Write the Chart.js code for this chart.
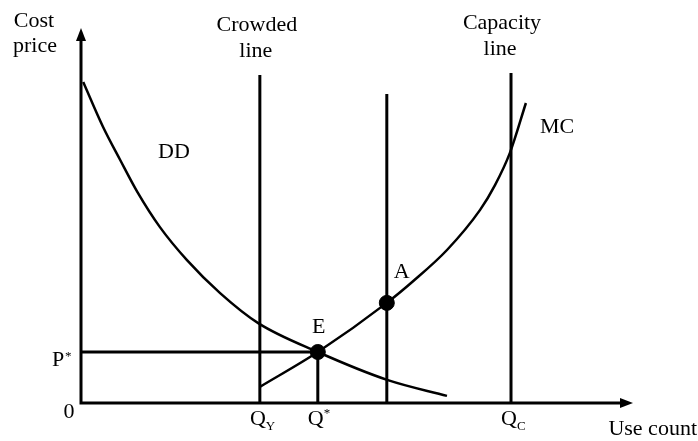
<!DOCTYPE html>
<html>
<head>
<meta charset="utf-8">
<script src="https://cdn.jsdelivr.net/npm/chart.js@4"></script>
<style>
  html, body { margin: 0; padding: 0; background: #fff; }
  #wrap { width: 698px; height: 441px; }
</style>
</head>
<body>
<div id="wrap"><canvas id="chart"></canvas></div>
<script>
// demand curve DD
const ddX = [0.4, 4.0, 7.1, 10.2, 14.3, 19.2, 25.2, 32.1, 42.9, 55.6, 66.3];
const ddY = [85.6, 73.6, 64.8, 56.3, 46.9, 38.1, 29.3, 21.3, 13.6, 6.1, 1.9];

// marginal cost curve MC
const mcX = [32.4, 42.9, 55.4, 60.1, 66.3, 72.3, 75.0, 77.7, 80.6];
const mcY = [4.3, 13.6, 26.7, 32.4, 40.8, 51.5, 58.1, 66.7, 80.0];

// vertical lines: crowded (QY), through A, capacity (QC)
const vLineX = [32.4, 55.4, 77.9];
const vLineTop = [87.5, 82.4, 88.0];

// equilibrium E and point A
const dotNames = ['E', 'A'];
const dotX = [42.9, 55.4];
const dotY = [13.6, 26.7];

const pStar = 13.6;
const qStar = 42.9;

const toPts = (xs, ys) => xs.map((x, i) => ({ x: x, y: ys[i] }));

const black = '#000';
const font = '"Liberation Serif", "Times New Roman", serif';

const lineDs = (pts, w) => ({
  data: pts,
  borderColor: black,
  borderWidth: w,
  pointRadius: 0,
  fill: false,
  clip: false
});

const datasets = [
  Object.assign(lineDs(toPts(ddX, ddY), 2.5), { cubicInterpolationMode: 'monotone' }),
  Object.assign(lineDs(toPts(mcX, mcY), 2.5), { cubicInterpolationMode: 'monotone' }),
  lineDs([{ x: 0, y: pStar }, { x: qStar, y: pStar }, { x: qStar, y: 0 }], 3)
];
vLineX.forEach((x, i) => {
  datasets.push(lineDs([{ x: x, y: 0 }, { x: x, y: vLineTop[i] }], 3));
});
datasets.push({
  data: toPts(dotX, dotY),
  showLine: false,
  pointRadius: 7.5,
  pointBackgroundColor: black,
  pointBorderColor: black,
  clip: false
});

// axes with arrows + all text
const decor = {
  id: 'decor',
  afterDatasetsDraw(chart) {
    const c = chart.ctx;
    const xs = chart.scales.x, ys = chart.scales.y;
    const x0 = xs.getPixelForValue(0), y0 = ys.getPixelForValue(0);
    const xEnd = xs.getPixelForValue(100), yEnd = ys.getPixelForValue(100);
    c.save();
    c.strokeStyle = black;
    c.fillStyle = black;
    c.lineWidth = 3;
    c.beginPath();
    c.moveTo(x0, y0 + 1.5);
    c.lineTo(x0, yEnd + 10);
    c.moveTo(x0 - 1.5, y0);
    c.lineTo(xEnd - 10, y0);
    c.stroke();
    c.beginPath();
    c.moveTo(x0, yEnd);
    c.lineTo(x0 - 5, yEnd + 13);
    c.lineTo(x0 + 5, yEnd + 13);
    c.closePath();
    c.fill();
    c.beginPath();
    c.moveTo(xEnd, y0);
    c.lineTo(xEnd - 13, y0 - 5);
    c.lineTo(xEnd - 13, y0 + 5);
    c.closePath();
    c.fill();

    const txt = (s, x, y, size, align) => {
      c.font = size + 'px ' + font;
      c.textAlign = align || 'center';
      c.textBaseline = 'alphabetic';
      c.fillText(s, x, y);
    };
    // Q label with sub/superscript
    const qLab = (x, sub, sup) => {
      c.font = '22px ' + font;
      const w = c.measureText('Q').width;
      c.textAlign = 'left';
      c.textBaseline = 'alphabetic';
      c.fillText('Q', x - w / 2 - 2, y0 + 22);
      if (sub) { c.font = '13px ' + font; c.fillText(sub, x + w / 2 - 2, y0 + 27); }
      if (sup) { c.font = '13px ' + font; c.fillText(sup, x + w / 2 - 2, y0 + 14); }
    };

    txt('Cost', 34, 27, 22);
    txt('price', 35, 52, 22);
    txt('Crowded', xs.getPixelForValue(vLineX[0]) - 3, 31, 22);
    txt('line', xs.getPixelForValue(vLineX[0]) - 4, 57, 22);
    txt('Capacity', xs.getPixelForValue(vLineX[2]) - 9, 29, 22);
    txt('line', xs.getPixelForValue(vLineX[2]) - 11, 55, 22);
    txt('0', x0 - 12, y0 + 15, 22);
    c.font = '22px ' + font;
    c.textAlign = 'left';
    const pY = ys.getPixelForValue(pStar);
    c.fillText('P', x0 - 29, pY + 14);
    c.font = '13px ' + font;
    c.fillText('*', x0 - 16, pY + 8);
    qLab(xs.getPixelForValue(vLineX[0]), 'Y', null);
    qLab(xs.getPixelForValue(qStar), null, '*');
    qLab(xs.getPixelForValue(vLineX[2]), 'C', null);
    txt('Use count', 697, y0 + 32, 22, 'right');
    txt('DD', 174, 158, 22);
    txt('MC', 557, 133, 22);
    dotNames.forEach((n, i) => {
      const px = xs.getPixelForValue(dotX[i]), py = ys.getPixelForValue(dotY[i]);
      if (n === 'A') txt(n, px + 15, py - 25, 22);
      else txt(n, px + 1, py - 19, 22);
    });
    c.restore();
  }
};

new Chart(document.getElementById('chart'), {
  type: 'line',
  data: { datasets: datasets },
  options: {
    responsive: true,
    maintainAspectRatio: false,
    animation: false,
    layout: { padding: { left: 81, right: 65, top: 28, bottom: 38 } },
    plugins: { legend: { display: false }, tooltip: { enabled: false } },
    scales: {
      x: { type: 'linear', min: 0, max: 100, display: false },
      y: { type: 'linear', min: 0, max: 100, display: false }
    }
  },
  plugins: [decor]
});
</script>
</body>
</html>
